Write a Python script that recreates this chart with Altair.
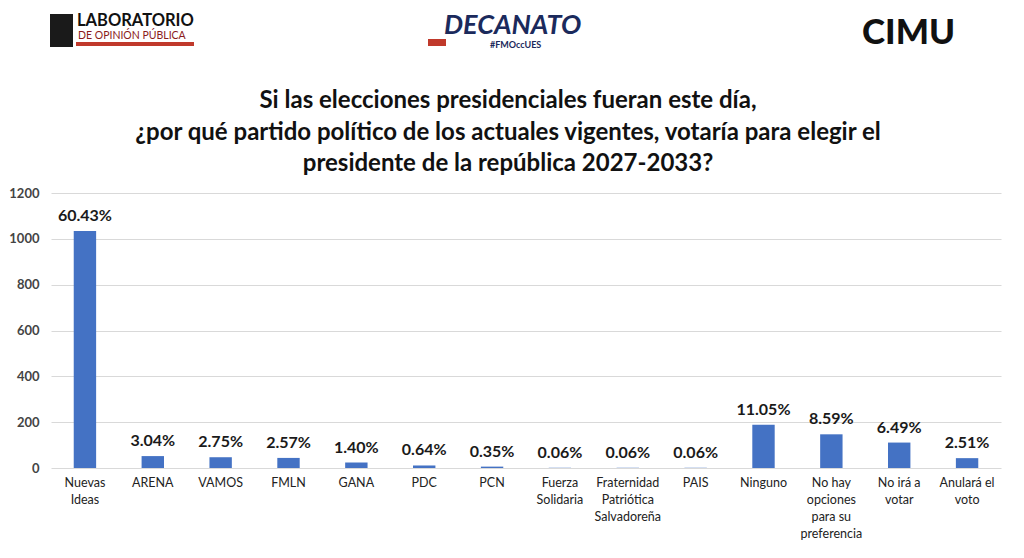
import altair as alt
import pandas as pd

categories = ["Nuevas|Ideas", "ARENA", "VAMOS", "FMLN", "GANA", "PDC", "PCN",
              "Fuerza|Solidaria", "Fraternidad|Patriótica|Salvadoreña", "PAIS",
              "Ninguno", "No hay|opciones|para su|preferencia", "No irá a|votar",
              "Anulará el|voto"]
counts = [1034, 52, 47, 44, 24, 11, 6, 1, 1, 1, 189, 147, 111, 43]
percent_labels = ["60.43%", "3.04%", "2.75%", "2.57%", "1.40%", "0.64%", "0.35%",
                  "0.06%", "0.06%", "0.06%", "11.05%", "8.59%", "6.49%", "2.51%"]
y_ticks = [0, 200, 400, 600, 800, 1000, 1200]

title_lines = ["Si las elecciones presidenciales fueran este día,",
               "¿por qué partido político de los actuales vigentes, votaría para elegir el",
               "presidente de la república 2027-2033?"]

df = pd.DataFrame({"cat": categories, "n": counts, "pct": percent_labels})

FONT = "Lato"
x_enc = alt.X("cat:N", sort=categories, title=None,
              scale=alt.Scale(paddingInner=0.67, paddingOuter=0.335),
              axis=alt.Axis(labelAngle=0, labelExpr="split(datum.label, '|')",
                            labelFont=FONT, labelFontSize=12.5, labelColor="#222222",
                            labelLineHeight=17, labelPadding=8, domain=False,
                            ticks=False, labelBaseline="top"))
y_enc = alt.Y("n:Q", title=None,
              scale=alt.Scale(domain=[0, 1200], nice=False),
              axis=alt.Axis(values=y_ticks, format="d", labelFont=FONT, labelFontSize=13,
                            labelFontWeight="bold", labelColor="#444444",
                            labelPadding=12, domain=False, ticks=False,
                            gridColor="#d9d9d9", gridWidth=1))

bars = alt.Chart(df).mark_bar(color="#4472C4").encode(x=x_enc, y=y_enc)
labels = alt.Chart(df).mark_text(font=FONT, fontSize=16, fontWeight="bold",
                                 color="#1a1a1a", baseline="bottom", dy=-7).encode(
    x=alt.X("cat:N", sort=categories), y="n:Q", text="pct:N")

one = pd.DataFrame({"k": [0]})
def txt(s, x, y, size, weight="bold", color="#111111", style="normal", font=FONT, align="left"):
    return alt.Chart(one).mark_text(text=s, fontSize=size, fontWeight=weight, color=color,
                                    fontStyle=style, font=font, align=align,
                                    baseline="middle").encode(
        x=alt.value(x - 51), y=alt.value(y - 193))

def box(x1, y1, x2, y2, color):
    return alt.Chart(one).mark_rect(color=color).encode(
        x=alt.value(x1 - 51), x2=alt.value(x2 - 51),
        y=alt.value(y1 - 193), y2=alt.value(y2 - 193))

decor = [
    box(50, 14, 73, 47, "#1a1a1a"),
    txt("LABORATORIO", 77, 21, 16.5, color="#111111"),
    txt("DE OPINIÓN PÚBLICA", 78, 36, 10.5, weight="normal", color="#8b1a1a"),
    box(76, 42, 194, 46, "#c0392b"),
    txt("DECANATO", 444, 26, 27, weight="bold", color="#1b2a5c", style="italic"),
    txt("#FMOccUES", 490, 45, 9, weight="bold", color="#1b2a5c"),
    box(428, 39, 446, 46, "#c0392b"),
    txt("CIMU", 862, 33, 35, weight=900, color="#111111"),
]
for line, yy in zip(title_lines, [101, 133, 164]):
    decor.append(txt(line, 508, yy, 24, color="#111111", align="center"))

chart = alt.layer(bars, labels, *decor).properties(
    width=950, height=275,
    autosize=alt.AutoSizeParams(type="none"),
    padding={"left": 43, "top": 185, "right": 15, "bottom": 82},
    background="white",
).configure_view(strokeWidth=0)

chart.save("out.html", embed_options={"renderer": "svg", "actions": False})
